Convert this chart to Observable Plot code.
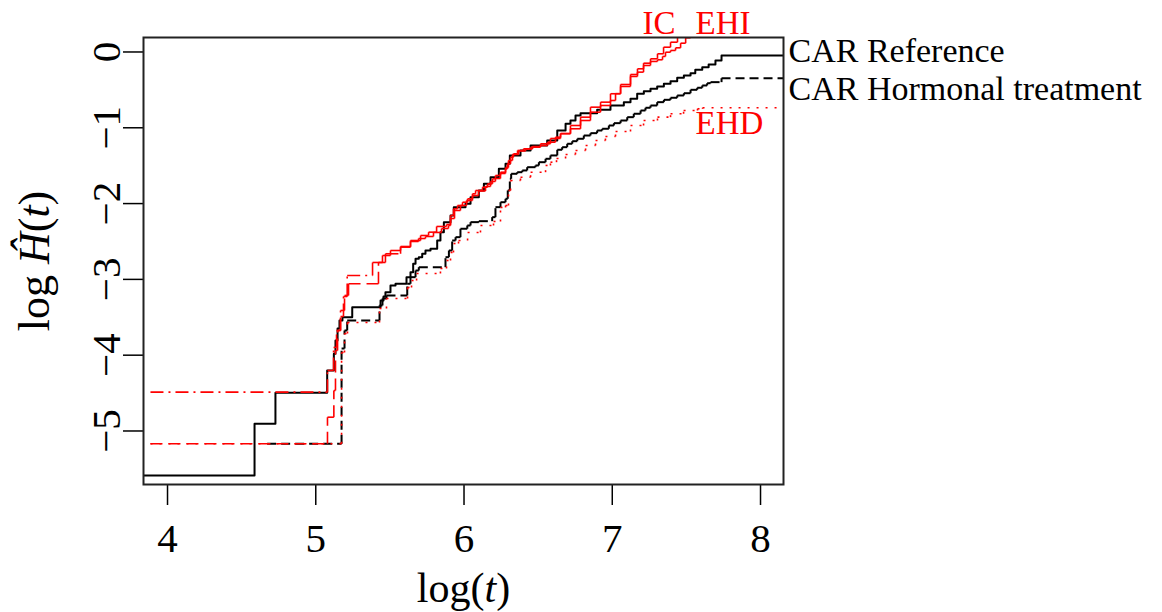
<!DOCTYPE html>
<html><head><meta charset="utf-8">
<script src="https://cdn.jsdelivr.net/npm/d3@7"></script>
<script src="https://cdn.jsdelivr.net/npm/@observablehq/plot@0.6"></script>
<style>html,body{margin:0;padding:0;background:#fff;} #chart svg{display:block;}</style>
</head><body><div id="chart"></div>
<script>
// ---- data (log t, log H(t)) ----
const refX = [3.838, 4.587, 4.728, 5.077, 5.122, 5.133, 5.147, 5.160, 5.180, 5.246, 5.437, 5.457, 5.470, 5.504, 5.538, 5.612, 5.639, 5.657, 5.673, 5.695, 5.718, 5.740, 5.774, 5.819, 5.841, 5.864, 5.909, 5.931, 6.010, 6.044, 6.100, 6.134, 6.179, 6.235, 6.280, 6.309, 6.381, 6.449, 6.561, 6.629, 6.685, 6.718, 6.752, 6.786, 6.898, 6.988, 7.078, 7.123, 7.168, 7.213, 7.258, 7.303, 7.348, 7.393, 7.438, 7.483, 7.528, 7.560, 7.607, 7.650, 7.696, 7.737, 8.155];
const refY = [-5.587, -4.905, -4.496, -4.202, -3.982, -3.806, -3.648, -3.542, -3.499, -3.367, -3.278, -3.226, -3.169, -3.081, -3.058, -2.971, -2.905, -2.794, -2.728, -2.707, -2.662, -2.619, -2.596, -2.487, -2.377, -2.245, -2.157, -2.047, -2.003, -1.916, -1.827, -1.739, -1.652, -1.541, -1.475, -1.365, -1.299, -1.234, -1.168, -1.036, -0.947, -0.904, -0.838, -0.807, -0.763, -0.706, -0.662, -0.617, -0.551, -0.517, -0.485, -0.455, -0.420, -0.385, -0.340, -0.310, -0.280, -0.235, -0.200, -0.165, -0.112, -0.046, -0.046];

const horX = [4.672, 5.174, 5.194, 5.212, 5.430, 5.450, 5.477, 5.617, 5.639, 5.673, 5.695, 5.875, 5.898, 5.920, 5.943, 5.976, 6.022, 6.044, 6.100, 6.190, 6.212, 6.246, 6.280, 6.295, 6.309, 6.318, 6.359, 6.393, 6.426, 6.482, 6.505, 6.550, 6.583, 6.629, 6.662, 6.696, 6.730, 6.764, 6.808, 6.853, 6.898, 6.932, 6.977, 7.011, 7.056, 7.101, 7.145, 7.191, 7.224, 7.258, 7.303, 7.348, 7.393, 7.438, 7.483, 7.528, 7.573, 7.607, 7.640, 7.663, 7.737, 8.155];
const horY = [-5.169, -3.912, -3.674, -3.542, -3.344, -3.252, -3.212, -3.058, -2.971, -2.883, -2.839, -2.707, -2.619, -2.487, -2.443, -2.332, -2.289, -2.245, -2.232, -2.179, -2.047, -1.982, -1.937, -1.827, -1.673, -1.607, -1.586, -1.563, -1.520, -1.497, -1.454, -1.409, -1.365, -1.290, -1.256, -1.211, -1.177, -1.145, -1.102, -1.071, -1.036, -1.013, -0.970, -0.939, -0.904, -0.860, -0.815, -0.772, -0.736, -0.706, -0.662, -0.631, -0.604, -0.574, -0.544, -0.499, -0.472, -0.442, -0.412, -0.398, -0.346, -0.346];

const icX = [3.885, 5.079, 5.122, 5.133, 5.147, 5.167, 5.194, 5.221, 5.423, 5.450, 5.504, 5.572, 5.639, 5.693, 5.740, 5.794, 5.848, 5.895, 5.909, 5.936, 5.976, 6.017, 6.057, 6.098, 6.145, 6.179, 6.212, 6.246, 6.280, 6.300, 6.327, 6.368, 6.415, 6.462, 6.516, 6.583, 6.651, 6.718, 6.786, 6.853, 6.921, 6.988, 7.056, 7.123, 7.170, 7.211, 7.258, 7.305, 7.346, 7.393, 7.440, 7.474];
const icY = [-5.169, -4.818, -4.466, -3.938, -3.674, -3.410, -3.212, -3.058, -2.777, -2.685, -2.619, -2.566, -2.500, -2.461, -2.434, -2.381, -2.329, -2.289, -2.197, -2.091, -2.025, -1.959, -1.893, -1.834, -1.774, -1.708, -1.669, -1.603, -1.524, -1.431, -1.352, -1.306, -1.280, -1.247, -1.211, -1.141, -1.079, -0.970, -0.860, -0.728, -0.662, -0.551, -0.429, -0.297, -0.222, -0.148, -0.090, -0.024, 0.063, 0.129, 0.195, 0.284];

const ehiX = [3.885, 5.079, 5.120, 5.140, 5.167, 5.187, 5.212, 5.383, 5.470, 5.572, 5.639, 5.707, 5.761, 5.815, 5.882, 5.909, 5.929, 5.956, 5.990, 6.024, 6.057, 6.078, 6.125, 6.159, 6.192, 6.212, 6.246, 6.280, 6.293, 6.314, 6.334, 6.361, 6.401, 6.449, 6.516, 6.563, 6.617, 6.651, 6.718, 6.786, 6.853, 6.921, 6.988, 7.022, 7.056, 7.123, 7.170, 7.211, 7.258, 7.305, 7.339, 7.359, 7.393, 7.427, 7.461, 7.495, 7.528];
const ehiY = [-4.488, -4.202, -3.898, -3.674, -3.490, -3.226, -2.949, -2.777, -2.662, -2.575, -2.487, -2.421, -2.377, -2.302, -2.276, -2.157, -2.069, -2.025, -1.982, -1.937, -1.871, -1.827, -1.784, -1.739, -1.673, -1.629, -1.586, -1.541, -1.475, -1.388, -1.343, -1.299, -1.277, -1.256, -1.234, -1.190, -1.124, -1.075, -1.013, -0.904, -0.794, -0.706, -0.640, -0.550, -0.455, -0.323, -0.266, -0.178, -0.125, -0.103, -0.059, -0.003, 0.020, 0.055, 0.116, 0.187, 0.284];

const ehdX = [3.885, 5.174, 5.194, 5.214, 5.430, 5.477, 5.619, 5.646, 5.680, 5.841, 5.882, 5.909, 5.929, 5.963, 6.024, 6.111, 6.199, 6.246, 6.280, 6.300, 6.314, 6.381, 6.449, 6.550, 6.583, 6.624, 6.685, 6.752, 6.820, 6.887, 6.954, 7.022, 7.123, 7.211, 7.305, 7.393, 7.481, 7.575, 7.609, 8.155];
const ehdY = [-5.169, -3.964, -3.714, -3.569, -3.384, -3.252, -3.107, -3.015, -2.922, -2.856, -2.751, -2.645, -2.527, -2.487, -2.381, -2.289, -2.236, -2.051, -2.025, -1.827, -1.695, -1.652, -1.586, -1.497, -1.454, -1.405, -1.352, -1.299, -1.234, -1.168, -1.115, -1.049, -0.970, -0.904, -0.860, -0.815, -0.772, -0.749, -0.736, -0.736];

const xTicks = [4, 5, 6, 7, 8];
const yTicks = [-5, -4, -3, -2, -1, 0];
const seriesLabels = ["CAR Reference", "CAR Hormonal treatment", "IC", "EHI", "EHD"];
const xTitle = "log(t)";
const yTitle = "log Ĥ(t)";

// ---- helpers ----
function points(xs, ys) {
  const n = Math.min(xs.length, ys.length);
  return d3.range(n).map(i => ({x: xs[i], y: ys[i]}));
}
function segments(xs, ys) {
  const n = Math.min(xs.length, ys.length);
  const out = [];
  for (let i = 0; i < n - 1; i++) {
    out.push({x1: xs[i], y1: ys[i], x2: xs[i + 1], y2: ys[i]});
    if (ys[i + 1] !== ys[i]) out.push({x1: xs[i + 1], y1: ys[i], x2: xs[i + 1], y2: ys[i + 1]});
  }
  return out;
}
const intFmt = d => (d < 0 ? "\u2212" + Math.abs(d) : String(d));
const seg = {x1: "x1", y1: "y1", x2: "x2", y2: "y2", clip: true};
const font = "'Liberation Serif', 'Times New Roman', Times, serif";

const chart = Plot.plot({
  width: 1162, height: 612,
  marginLeft: 143, marginRight: 379, marginTop: 37, marginBottom: 128,
  x: {domain: [3.838, 8.155]},
  y: {domain: [-5.706, 0.191]},
  style: {fontFamily: font, background: "white", overflow: "visible", color: "black"},
  marks: [
    Plot.axisX({ticks: xTicks, tickFormat: intFmt, tickSize: 21, tickPadding: 17, fontSize: 41, label: null, strokeWidth: 1.5}),
    Plot.axisY({ticks: yTicks, tickFormat: intFmt, tickSize: 20, tickPadding: 4, tickRotate: -90, fontSize: 41, label: null, strokeWidth: 1.5}),
    Plot.line(points(refX, refY), {x: "x", y: "y", curve: "step-after", stroke: "black", strokeWidth: 2, clip: true}),
    Plot.link(segments(horX, horY), {...seg, stroke: "black", strokeWidth: 2, strokeDasharray: "9,5"}),
    Plot.link(segments(icX, icY), {...seg, stroke: "red", strokeWidth: 1.6, strokeDasharray: "12,6"}),
    Plot.link(segments(ehiX, ehiY), {...seg, stroke: "red", strokeWidth: 1.6, strokeDasharray: "13,5,2,5"}),
    Plot.link(segments(ehdX, ehdY), {...seg, stroke: "red", strokeWidth: 1.6, strokeDasharray: "2,7"}),
    Plot.frame({stroke: "#222", strokeWidth: 2}),
    // right-hand labels
    Plot.text([seriesLabels[0]], {text: d => d, frameAnchor: "top-right", dx: 5, dy: 24, textAnchor: "start", lineAnchor: "bottom", fontSize: 34, fill: "black"}),
    Plot.text([seriesLabels[1]], {text: d => d, frameAnchor: "top-right", dx: 5, dy: 62, textAnchor: "start", lineAnchor: "bottom", fontSize: 34, fill: "black"}),
    Plot.text([seriesLabels[2]], {text: d => d, frameAnchor: "top-left", dx: 499, dy: -4, textAnchor: "start", lineAnchor: "bottom", fontSize: 33, fill: "red"}),
    Plot.text([seriesLabels[3]], {text: d => d, frameAnchor: "top-left", dx: 552, dy: -4, textAnchor: "start", lineAnchor: "bottom", fontSize: 33, fill: "red"}),
    Plot.text([seriesLabels[4]], {text: d => d, frameAnchor: "top-left", dx: 552, dy: 96, textAnchor: "start", lineAnchor: "bottom", fontSize: 33, fill: "red"}),
    // axis titles
    Plot.text([xTitle], {text: d => d, frameAnchor: "bottom", dy: 117, textAnchor: "middle", lineAnchor: "bottom", fontSize: 42, fill: "black"}),
    Plot.text([yTitle], {text: d => d, frameAnchor: "left", dx: -95, rotate: -90, textAnchor: "middle", lineAnchor: "bottom", fontSize: 44, fill: "black"})
  ]
});

// italic variables in the axis titles
for (const t of chart.querySelectorAll("text")) {
  if (t.textContent === yTitle) {
    t.innerHTML = 'log <tspan font-style="italic">Ĥ</tspan>(<tspan font-style="italic">t</tspan>)';
  } else if (t.textContent === xTitle) {
    t.innerHTML = 'log(<tspan font-style="italic">t</tspan>)';
  }
}
document.getElementById("chart").appendChild(chart);
</script>
</body></html>
